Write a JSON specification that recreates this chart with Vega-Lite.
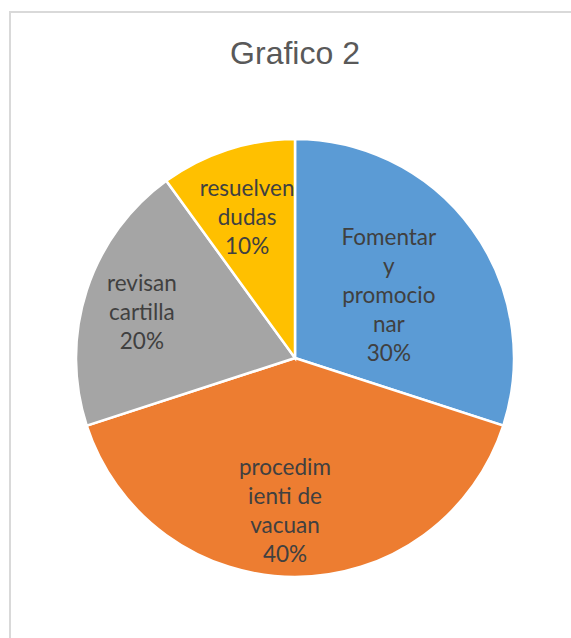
{
  "$schema": "https://vega.github.io/schema/vega-lite/v6.json",
  "autosize": "none",
  "padding": {"left": 10, "top": 12, "right": 0, "bottom": 0},
  "width": 570,
  "height": 692,
  "background": "white",
  "view": {"stroke": "#d9d9d9", "strokeWidth": 2},
  "title": {
    "text": "Grafico 2",
    "anchor": "middle",
    "frame": "group",
    "orient": "top",
    "offset": -84,
    "baseline": "alphabetic",
    "font": "Liberation Sans",
    "fontSize": 32,
    "fontWeight": "normal",
    "color": "#595959"
  },
  "data": {
    "values": [
      {"categoria": "Fomentar y promocionar", "etiqueta": "Fomentar\ny\npromocio\nnar", "valor": 30, "orden": 1},
      {"categoria": "procedimienti de vacuan", "etiqueta": "procedim\nienti de\nvacuan", "valor": 40, "orden": 2},
      {"categoria": "revisan cartilla", "etiqueta": "revisan\ncartilla", "valor": 20, "orden": 3},
      {"categoria": "resuelven dudas", "etiqueta": "resuelven\ndudas", "valor": 10, "orden": 4}
    ]
  },
  "transform": [
    {"stack": "valor", "groupby": [], "sort": [{"field": "orden", "order": "ascending"}], "as": ["v0", "v1"]},
    {"calculate": "(datum.v0 + datum.v1) / 2", "as": "medio"},
    {"calculate": "datum.etiqueta + '\\n' + datum.valor + '%'", "as": "texto"}
  ],
  "layer": [
    {
      "mark": {"type": "arc", "outerRadius": 219, "stroke": "white", "strokeWidth": 2.5},
      "encoding": {
        "theta": {"field": "v0", "type": "quantitative", "scale": {"domain": [0, 100]}},
        "theta2": {"field": "v1"},
        "color": {
          "field": "categoria",
          "type": "nominal",
          "scale": {
            "domain": ["Fomentar y promocionar", "procedimienti de vacuan", "revisan cartilla", "resuelven dudas"],
            "range": ["#5B9BD5", "#ED7D31", "#A5A5A5", "#FFC000"]
          },
          "legend": null
        }
      }
    },
    {
      "transform": [{"filter": "datum.orden == 1"}],
      "mark": {"type": "text", "radius": 116, "dy": -52, "lineBreak": "\n", "font": "Lato", "fontSize": 22.5, "lineHeight": 29, "color": "#404040", "align": "center", "baseline": "middle"},
      "encoding": {
        "theta": {"field": "medio", "type": "quantitative", "scale": {"domain": [0, 100]}},
        "text": {"field": "texto"}
      }
    },
    {
      "transform": [{"filter": "datum.orden == 2"}],
      "mark": {"type": "text", "radius": 153, "dx": -10, "dy": -43, "lineBreak": "\n", "font": "Lato", "fontSize": 22.5, "lineHeight": 29, "color": "#404040", "align": "center", "baseline": "middle"},
      "encoding": {
        "theta": {"field": "medio", "type": "quantitative", "scale": {"domain": [0, 100]}},
        "text": {"field": "texto"}
      }
    },
    {
      "transform": [{"filter": "datum.orden == 3"}],
      "mark": {"type": "text", "radius": 161, "dy": -24, "lineBreak": "\n", "font": "Lato", "fontSize": 22.5, "lineHeight": 29, "color": "#404040", "align": "center", "baseline": "middle"},
      "encoding": {
        "theta": {"field": "medio", "type": "quantitative", "scale": {"domain": [0, 100]}},
        "text": {"field": "texto"}
      }
    },
    {
      "transform": [{"filter": "datum.orden == 4"}],
      "mark": {"type": "text", "radius": 155, "dy": -22, "lineBreak": "\n", "font": "Lato", "fontSize": 22.5, "lineHeight": 29, "color": "#404040", "align": "center", "baseline": "middle"},
      "encoding": {
        "theta": {"field": "medio", "type": "quantitative", "scale": {"domain": [0, 100]}},
        "text": {"field": "texto"}
      }
    }
  ]
}
